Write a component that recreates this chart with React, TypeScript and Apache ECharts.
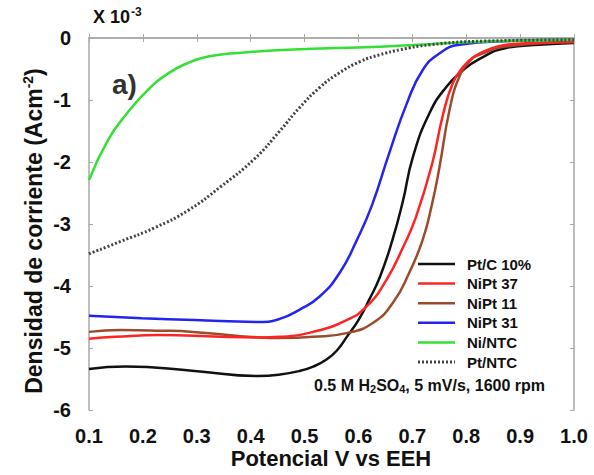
import React, { useEffect, useRef } from "react";
import * as echarts from "echarts";

// Polarisation curves: potential (V vs EEH) and current density (x 10^-3 A cm^-2)
const ptcX = [0.1, 0.168, 0.296, 0.413, 0.452, 0.491, 0.516, 0.54, 0.56, 0.58, 0.6, 0.62, 0.64, 0.663, 0.682, 0.701, 0.732, 0.763, 0.794, 0.824, 0.874, 0.936, 1.0];
const ptcY = [-5.34, -5.3, -5.37, -5.45, -5.43, -5.37, -5.3, -5.19, -5.04, -4.8, -4.55, -4.22, -3.85, -3.26, -2.65, -1.92, -1.21, -0.79, -0.52, -0.34, -0.16, -0.11, -0.08];

const nipt37X = [0.1, 0.149, 0.231, 0.344, 0.417, 0.454, 0.516, 0.578, 0.615, 0.652, 0.683, 0.707, 0.737, 0.756, 0.775, 0.794, 0.813, 0.843, 0.874, 0.931, 1.0];
const nipt37Y = [-4.85, -4.82, -4.79, -4.82, -4.83, -4.82, -4.74, -4.55, -4.33, -3.9, -3.37, -2.88, -2.02, -1.27, -0.73, -0.47, -0.31, -0.18, -0.11, -0.08, -0.06];

const nipt11X = [0.1, 0.159, 0.231, 0.293, 0.417, 0.454, 0.516, 0.578, 0.626, 0.664, 0.694, 0.719, 0.736, 0.75, 0.769, 0.787, 0.806, 0.824, 0.882, 1.0];
const nipt11Y = [-4.74, -4.71, -4.72, -4.74, -4.83, -4.84, -4.82, -4.76, -4.6, -4.27, -3.79, -3.26, -2.7, -2.1, -1.16, -0.63, -0.38, -0.27, -0.13, -0.07];

const nipt31X = [0.1, 0.198, 0.296, 0.417, 0.454, 0.491, 0.528, 0.565, 0.597, 0.625, 0.657, 0.69, 0.719, 0.75, 0.787, 0.882, 1.0];
const nipt31Y = [-4.48, -4.52, -4.55, -4.58, -4.53, -4.38, -4.17, -3.79, -3.26, -2.7, -1.86, -1.05, -0.52, -0.25, -0.11, -0.05, -0.03];

const nintcX = [0.1, 0.135, 0.171, 0.209, 0.247, 0.284, 0.321, 0.377, 0.469, 0.64, 0.732, 0.833, 1.0];
const nintcY = [-2.29, -1.65, -1.21, -0.84, -0.57, -0.4, -0.3, -0.24, -0.19, -0.14, -0.1, -0.06, -0.03];

const ptntcX = [0.1, 0.159, 0.222, 0.284, 0.344, 0.407, 0.454, 0.491, 0.528, 0.565, 0.603, 0.64, 0.677, 0.732, 0.833, 1.0];
const ptntcY = [-3.48, -3.28, -3.06, -2.78, -2.4, -1.95, -1.5, -1.12, -0.8, -0.56, -0.38, -0.27, -0.19, -0.11, -0.05, -0.03];

const seriesNames = ["Pt/C 10%", "NiPt 37", "NiPt 11", "NiPt 31", "Ni/NTC", "Pt/NTC"];
const seriesColors = ["#111111", "#ff2424", "#9c4a2c", "#2424f0", "#33e033", "#444444"];

const FONT = "Liberation Sans, Arial, sans-serif";
const AXIS_GREY = "#a8a8a8";

const pairs = (xs: number[], ys: number[]) => xs.map((x, i) => [x, ys[i]]);

export default function App() {
  const ref = useRef<HTMLDivElement>(null);

  useEffect(() => {
    if (!ref.current) return;
    document.body.style.margin = "0";
    document.body.style.overflow = "hidden";
    const chart = echarts.init(ref.current, undefined, { renderer: "svg" });

    const line = (idx: number, data: number[][], extra: any = {}) => ({
      name: seriesNames[idx],
      type: "line",
      data,
      symbol: "none",
      smooth: 0.5,
      lineStyle: { color: seriesColors[idx], width: 2.5, ...extra },
      itemStyle: { color: seriesColors[idx] },
      z: 3,
    });

    const dotted = [2, 2];

    // hand-drawn key: short line sample + bold label per series
    const keyItems: any[] = [];
    seriesNames.forEach((name, i) => {
      const y = 264 + i * 19.6;
      keyItems.push({
        type: "line",
        shape: { x1: 418, y1: y, x2: 455, y2: y },
        style: {
          stroke: seriesColors[i],
          lineWidth: i === 5 ? 3 : 2.5,
          lineDash: i === 5 ? dotted : null,
        },
        z: 10,
      });
      keyItems.push({
        type: "text",
        x: 467,
        y,
        style: {
          text: name,
          verticalAlign: "middle",
          fontFamily: FONT,
          fontWeight: "bold",
          fontSize: 15,
          fill: "#111",
        },
        z: 10,
      });
    });

    const axisCommon = {
      type: "value",
      axisLine: { show: true, lineStyle: { color: AXIS_GREY, width: 1.5 } },
      axisTick: { show: true, inside: true, length: 4, lineStyle: { color: AXIS_GREY } },
      splitLine: { show: false },
    };

    chart.setOption({
      animation: false,
      backgroundColor: "#ffffff",
      grid: { left: 89, top: 38, width: 485, height: 372, containLabel: false },
      xAxis: [
        {
          ...axisCommon,
          min: 0.1,
          max: 1.0,
          interval: 0.1,
          position: "bottom",
          axisLabel: {
            formatter: (v: number) => v.toFixed(1),
            color: "#111",
            fontFamily: FONT,
            fontWeight: "bold",
            fontSize: 20,
            margin: 16,
          },
        },
        {
          ...axisCommon,
          min: 0.1,
          max: 1.0,
          interval: 0.1,
          position: "top",
          axisLabel: { show: false },
        },
      ],
      yAxis: [
        {
          ...axisCommon,
          min: -6,
          max: 0,
          interval: 1,
          position: "left",
          axisLabel: {
            color: "#111",
            fontFamily: FONT,
            fontWeight: "bold",
            fontSize: 20,
            margin: 18,
          },
        },
        {
          ...axisCommon,
          min: -6,
          max: 0,
          interval: 1,
          position: "right",
          axisLabel: { show: false },
        },
      ],
      series: [
        line(0, pairs(ptcX, ptcY)),
        line(2, pairs(nipt11X, nipt11Y)),
        line(1, pairs(nipt37X, nipt37Y)),
        line(3, pairs(nipt31X, nipt31Y)),
        line(4, pairs(nintcX, nintcY)),
        line(5, pairs(ptntcX, ptntcY), { type: dotted, width: 3 }),
      ],
      graphic: [
        ...keyItems,
        {
          type: "text",
          left: 93,
          top: 6,
          style: {
            text: "{b|X 10}{s|-3}",
            rich: {
              b: { fontFamily: FONT, fontWeight: "bold", fontSize: 18, fill: "#111" },
              s: { fontFamily: FONT, fontWeight: "bold", fontSize: 12, fill: "#111", padding: [0, 0, 10, 1] },
            },
          },
        },
        {
          type: "text",
          left: 112,
          top: 70,
          style: {
            text: "a)",
            fontFamily: FONT,
            fontWeight: "bold",
            fontSize: 28,
            fill: "#333",
          },
        },
        {
          type: "text",
          x: 34,
          y: 231,
          rotation: Math.PI / 2,
          style: {
            text: "{b|Densidad de corriente (Acm}{s|-2}{b|)}",
            align: "center",
            verticalAlign: "middle",
            rich: {
              b: { fontFamily: FONT, fontWeight: "bold", fontSize: 23, fill: "#111" },
              s: { fontFamily: FONT, fontWeight: "bold", fontSize: 14, fill: "#111", padding: [0, 0, 12, 0] },
            },
          },
        },
        {
          type: "text",
          x: 331,
          y: 458,
          style: {
            text: "Potencial V vs EEH",
            align: "center",
            verticalAlign: "middle",
            fontFamily: FONT,
            fontWeight: "bold",
            fontSize: 22,
            fill: "#111",
          },
        },
        {
          type: "text",
          left: 314,
          top: 377,
          style: {
            text: "{b|0.5 M H}{s|2}{b|SO}{s|4}{b|, 5 mV/s, 1600 rpm}",
            rich: {
              b: { fontFamily: FONT, fontWeight: "bold", fontSize: 16, fill: "#111" },
              s: { fontFamily: FONT, fontWeight: "bold", fontSize: 11, fill: "#111", padding: [7, 0, 0, 0] },
            },
          },
        },
      ],
    });

    return () => chart.dispose();
  }, []);

  return (
    <div
      ref={ref}
      style={{ position: "fixed", left: 0, top: 0, width: 594, height: 475 }}
    />
  );
}
